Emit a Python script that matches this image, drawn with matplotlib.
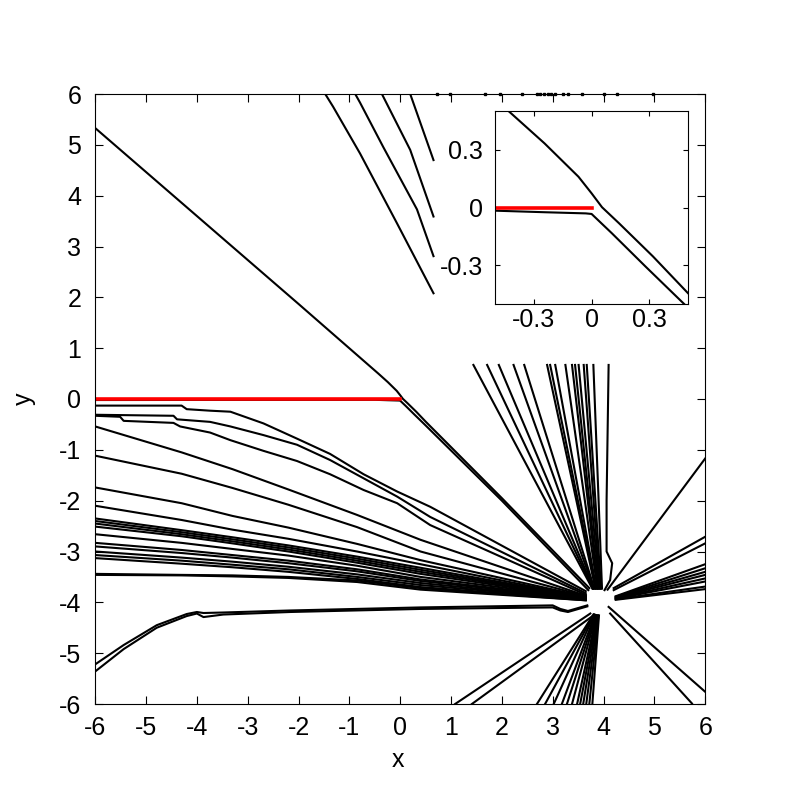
import matplotlib.pyplot as plt

plt.rcParams['font.family'] = ['Liberation Sans', 'DejaVu Sans']
plt.rcParams['axes.unicode_minus'] = False

# ---- values ----

# red cut along y = 0
cut_x = [-6.0, 0.0]
cut_y = [0.0, 0.0]

# line from the upper left corner through the origin into the centre
upper_x = [-6.0, -4.0, -2.0, -0.43, -0.244, -0.068, 0.0, 0.054, 0.142, 0.318, 0.5, 2.0, 3.72]
upper_y = [5.33, 3.60, 1.87, 0.5, 0.333, 0.16, 0.074, 0.002, -0.081, -0.253, -0.444, -1.95, -3.72]

# line just under the cut, bending down at the origin
lower_x = [-6.0, -0.5, -0.244, -0.03, 0.0, 0.105, 0.28, 0.48, 2.0, 3.70]
lower_y = [-0.02, -0.016, -0.024, -0.03, -0.033, -0.133, -0.306, -0.5, -2.0, -3.76]

# their continuation past the centre towards the lower right
upper2_x = [4.10, 6.0]
upper2_y = [-4.09, -5.76]
lower2_x = [4.13, 5.74]
lower2_y = [-4.22, -5.99]

# short lines near the top, cut at x ~ 0.66
top_lines = [
    ([-1.475, -1.32, -0.79, -0.065, 0.655], [6.0, 5.75, 4.83, 3.46, 2.08]),
    ([-0.885, -0.79, -0.335, 0.33, 0.655], [6.0, 5.83, 4.96, 3.73, 2.81]),
    ([-0.36, 0.197, 0.655], [6.0, 4.9, 3.59]),
    ([0.197, 0.655], [6.0, 4.70]),
]

# specks sitting on the top border
speck_x = [0.72, 0.98, 1.67, 1.97, 2.39, 2.69, 2.75, 2.82, 2.90, 2.97, 3.05, 3.21, 3.31, 3.57, 4.0, 4.27, 4.98]

# the three top lines under the cut, read one by one
curve1_x = [-6.0, -4.3, -4.2, -3.74, -3.34, -2.69, -2.03, -1.38, -0.72, -0.06, 0.59, 3.65]
curve1_y = [-0.13, -0.13, -0.2, -0.23, -0.25, -0.48, -0.78, -1.08, -1.48, -1.82, -2.12, -3.78]
curve2_x = [-6.0, -4.46, -4.39, -3.74, -3.34, -2.69, -2.03, -1.38, -0.72, -0.06, 0.59, 3.65]
curve2_y = [-0.31, -0.33, -0.40, -0.45, -0.54, -0.71, -0.90, -1.20, -1.56, -1.92, -2.32, -3.82]
curve3_x = [-6.0, -5.51, -5.44, -4.46, -4.33, -3.74, -3.34, -2.69, -2.03, -1.38, -0.72, -0.06, 0.59, 3.65]
curve3_y = [-0.33, -0.35, -0.43, -0.47, -0.54, -0.66, -0.81, -1.02, -1.22, -1.48, -1.79, -2.05, -2.48, -3.85]

# the other lines coming in from the left edge, y at each x knot
left_x = [-6.0, -4.3, -3.3, -2.2, -0.85, 0.4, 3.65]
left_y = [
    [-0.54, -1.05, -1.38, -1.78, -2.28, -2.77, -3.87],
    [-1.115, -1.47, -1.75, -2.08, -2.52, -3.00, -3.88],
    [-1.74, -2.05, -2.30, -2.53, -2.85, -3.17, -3.89],
    [-2.10, -2.38, -2.57, -2.75, -3.00, -3.25, -3.90],
    [-2.35, -2.58, -2.72, -2.88, -3.10, -3.32, -3.90],
    [-2.40, -2.62, -2.76, -2.92, -3.14, -3.36, -3.91],
    [-2.45, -2.66, -2.80, -2.96, -3.18, -3.40, -3.91],
    [-2.51, -2.70, -2.84, -3.00, -3.22, -3.44, -3.92],
    [-2.66, -2.83, -2.95, -3.08, -3.28, -3.50, -3.92],
    [-2.83, -2.97, -3.07, -3.18, -3.35, -3.55, -3.93],
    [-2.90, -3.03, -3.12, -3.23, -3.39, -3.58, -3.93],
    [-3.00, -3.12, -3.20, -3.30, -3.45, -3.62, -3.94],
    [-3.07, -3.18, -3.26, -3.35, -3.50, -3.66, -3.94],
    [-3.13, -3.24, -3.31, -3.40, -3.54, -3.70, -3.95],
    [-3.44, -3.46, -3.47, -3.50, -3.57, -3.72, -3.96],
    [-3.46, -3.47, -3.49, -3.52, -3.60, -3.75, -3.96],
]

# the two lines rising from the lower left corner
bottom_left_x = [-6.0, -5.44, -4.79, -4.2, -4.0, -3.87, -3.48, -2.16, 0.4, 3.0, 3.15, 3.3, 3.68]
bottom_left_y1 = [-5.22, -4.84, -4.45, -4.23, -4.19, -4.21, -4.20, -4.16, -4.10, -4.06, -4.13, -4.17, -4.06]
bottom_left_y2 = [-5.36, -4.92, -4.50, -4.27, -4.22, -4.29, -4.24, -4.19, -4.13, -4.10, -4.16, -4.19, -4.08]

# lines hanging down from y = 0.67 into the centre
fan_top_x0 = [1.44, 1.71, 1.94, 2.23, 2.44, 2.89, 2.95, 3.05, 3.25, 3.38, 3.44, 3.51, 3.61, 3.67, 3.80]
fan_top_x1 = [3.78, 3.79, 3.80, 3.81, 3.82, 3.84, 3.85, 3.86, 3.88, 3.89, 3.90, 3.92, 3.93, 3.95, 3.97]
fan_top_y = [0.67, -3.73]
kink_x = [4.10, 4.06, 4.06, 4.17, 4.13, 4.02]
kink_y = [0.67, -2.0, -3.0, -3.23, -3.56, -3.76]

# lines from the centre down to the bottom edge
fan_bot_x0 = [1.08, 1.41, 2.69, 2.85, 3.02, 3.18, 3.28, 3.38, 3.48, 3.54, 3.60, 3.66, 3.72, 3.78]
fan_bot_x1 = [3.74, 3.77, 3.80, 3.81, 3.82, 3.83, 3.84, 3.85, 3.86, 3.87, 3.88, 3.89, 3.90, 3.91]
fan_bot_y1 = [-4.22, -4.28, -4.24, -4.24, -4.24, -4.25, -4.25, -4.25, -4.26, -4.26, -4.26, -4.26, -4.26, -4.26]

# lines from the centre out to the right edge
fan_right_x0 = [4.08, 4.20, 4.20, 4.24, 4.24, 4.24, 4.24, 4.24, 4.24, 4.24, 4.24]
fan_right_y0 = [-3.75, -3.72, -3.76, -3.88, -3.89, -3.90, -3.91, -3.92, -3.93, -3.94, -3.95]
fan_right_y1 = [-1.17, -2.71, -2.84, -3.25, -3.33, -3.40, -3.46, -3.53, -3.59, -3.69, -3.74]

ticks_main = [-6, -5, -4, -3, -2, -1, 0, 1, 2, 3, 4, 5, 6]
ticks_inset = [-0.3, 0, 0.3]
ticks_inset_labels = ['-0.3', '0', '0.3']

lw = 1.5
k = 'black'
red = '#ff0000'
fs = 18

fig = plt.figure(figsize=(8, 8), dpi=100)
ax = fig.add_axes([0.119, 0.12, 0.7625, 0.7625])

for xs, ys in top_lines:
    ax.plot(xs, ys, color=k, lw=lw)
ax.plot(curve1_x, curve1_y, color=k, lw=lw)
ax.plot(curve2_x, curve2_y, color=k, lw=lw)
ax.plot(curve3_x, curve3_y, color=k, lw=lw)
for ys in left_y:
    ax.plot(left_x, ys, color=k, lw=lw)
ax.plot(bottom_left_x, bottom_left_y1, color=k, lw=lw)
ax.plot(bottom_left_x, bottom_left_y2, color=k, lw=lw)
for a, b in zip(fan_top_x0, fan_top_x1):
    ax.plot([a, b], fan_top_y, color=k, lw=lw)
ax.plot(kink_x, kink_y, color=k, lw=lw)
for a, b, c in zip(fan_bot_x0, fan_bot_x1, fan_bot_y1):
    ax.plot([a, b], [-6.0, c], color=k, lw=lw)
for a, b, c in zip(fan_right_x0, fan_right_y0, fan_right_y1):
    ax.plot([a, 6.0], [b, c], color=k, lw=lw)
ax.plot(upper_x, upper_y, color=k, lw=lw)
ax.plot(lower_x, lower_y, color=k, lw=lw)
ax.plot(upper2_x, upper2_y, color=k, lw=lw)
ax.plot(lower2_x, lower2_y, color=k, lw=lw)
ax.plot(speck_x, [6.0] * len(speck_x), 's', color=k, ms=2, clip_on=False)
ax.plot(cut_x, cut_y, color=red, lw=2.6)

ax.set_xlim(-6, 6)
ax.set_ylim(-6, 6)
ax.set_xticks(ticks_main)
ax.set_yticks(ticks_main)
ax.tick_params(direction='in', length=6, width=0.8, top=True, right=True, labelsize=fs)
ax.tick_params(axis='y', pad=10)
ax.tick_params(axis='x', pad=8.5)
ax.set_xlabel('x', fontsize=fs)
ax.set_ylabel('y', fontsize=fs)
ax.xaxis.set_label_coords(0.497, -0.072)
ax.yaxis.set_label_coords(-0.098, 0.5)

# zoom on the origin
ins = fig.add_axes([0.619, 0.62, 0.241, 0.241])
ins.plot(upper_x, upper_y, color=k, lw=lw)
ins.plot(lower_x, lower_y, color=k, lw=lw)
ins.plot(cut_x, cut_y, color=red, lw=2.6)
ins.set_xlim(-0.5, 0.5)
ins.set_ylim(-0.5, 0.5)
ins.set_xticks(ticks_inset)
ins.set_xticklabels(ticks_inset_labels)
ins.set_yticks(ticks_inset)
ins.set_yticklabels(ticks_inset_labels)
ins.tick_params(direction='in', length=3.5, width=0.8, top=True, right=True, labelsize=fs)
ins.tick_params(axis='y', pad=9)
ins.tick_params(axis='x', pad=3)

fig.savefig('out.png', dpi=100)
